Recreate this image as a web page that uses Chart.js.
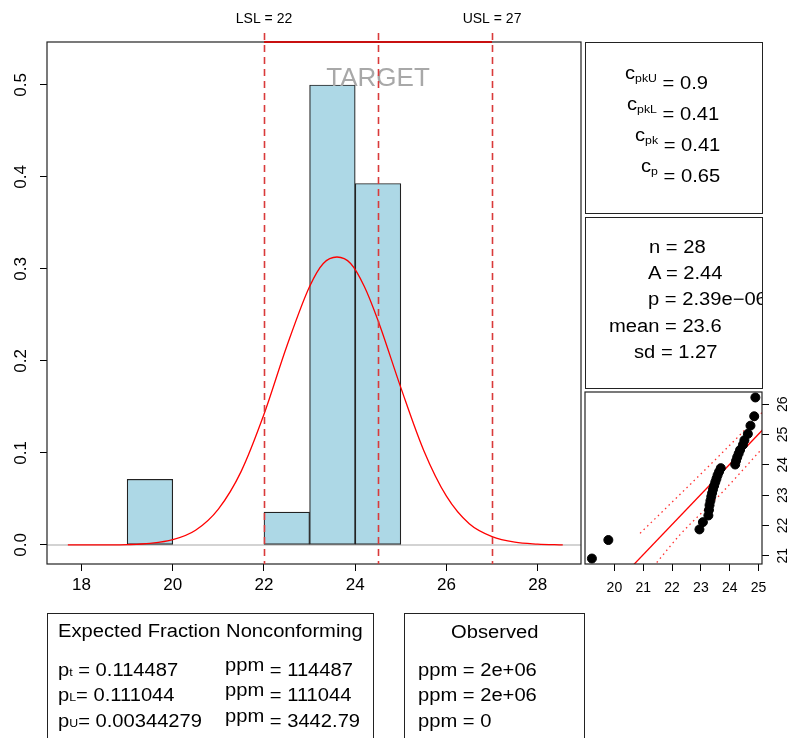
<!DOCTYPE html>
<html>
<head>
<meta charset="utf-8">
<script src="https://cdn.jsdelivr.net/npm/chart.js@4/dist/chart.umd.min.js"></script>
<style>
  body { margin: 0; background: #fff; }
  #wrap { position: relative; width: 790px; height: 738px; overflow: hidden; font-family: "Liberation Sans", Arial, sans-serif; }
  canvas { position: absolute; left: 0; top: 0; }
  .box { position: absolute; border: 1px solid #222; box-sizing: border-box; overflow: hidden; }
  .t { position: absolute; white-space: nowrap; font-size: 18px; line-height: 18px; transform: scaleX(1.12); transform-origin: 0 0; color: #000; }
  .up { position: relative; top: -10px; }
  .sub { font-size: 11px; position: relative; top: -6.6px; }
  .lo { font-size: 11px; }
  .pp { position: relative; top: -5px; }
</style>
</head>
<body>
<div id="wrap">
  <canvas id="hist" width="790" height="738"></canvas>
  <canvas id="qq" width="790" height="738"></canvas>

  <div class="box" style="left:585px;top:42px;width:178px;height:172px;">
    <div class="t" style="left:39px;top:31px;"><span class="up">c</span><span class="sub">pkU</span> = 0.9</div>
    <div class="t" style="left:41px;top:62px;"><span class="up">c</span><span class="sub">pkL</span> = 0.41</div>
    <div class="t" style="left:49px;top:93px;"><span class="up">c</span><span class="sub">pk</span> = 0.41</div>
    <div class="t" style="left:55px;top:124px;"><span class="up">c</span><span class="sub">p</span> = 0.65</div>
  </div>

  <div class="box" style="left:585px;top:217px;width:178px;height:172px;">
    <div class="t" style="left:63px;top:20px;">n = 28</div>
    <div class="t" style="left:62px;top:46px;">A = 2.44</div>
    <div class="t" style="left:62px;top:72px;">p = 2.39e−06</div>
    <div class="t" style="left:23px;top:99px;">mean = 23.6</div>
    <div class="t" style="left:48px;top:125px;">sd = 1.27</div>
  </div>

  <div class="box" style="left:47px;top:613px;width:327px;height:200px;">
    <div class="t" style="left:10px;top:8px;">Expected Fraction Nonconforming</div>
    <div class="t" style="left:10px;top:47px;">p<span class="lo">t</span> = 0.114487</div>
    <div class="t" style="left:10px;top:72px;">p<span class="lo">L</span>= 0.111044</div>
    <div class="t" style="left:10px;top:98px;">p<span class="lo">U</span>= 0.00344279</div>
    <div class="t" style="left:177px;top:47px;"><span class="pp">ppm</span> = 114487</div>
    <div class="t" style="left:177px;top:72px;"><span class="pp">ppm</span> = 111044</div>
    <div class="t" style="left:177px;top:98px;"><span class="pp">ppm</span> = 3442.79</div>
  </div>

  <div class="box" style="left:404px;top:613px;width:181px;height:200px;">
    <div class="t" style="left:46px;top:9px;">Observed</div>
    <div class="t" style="left:13px;top:47px;">ppm = 2e+06</div>
    <div class="t" style="left:13px;top:72px;">ppm = 2e+06</div>
    <div class="t" style="left:13px;top:98px;">ppm = 0</div>
  </div>
</div>

<script>
// histogram (density) of the 28 measurements
const binMids = [19.5, 20.5, 21.5, 22.5, 23.5, 24.5];
const density = [0.0714, 0, 0, 0.0357, 0.5, 0.3929];

// fitted normal curve
const curveX = [17.7, 18.5, 19, 19.5, 20, 20.5, 21, 21.5, 22, 22.5, 23, 23.3, 23.6, 23.9, 24.2, 24.5, 25, 25.5, 26, 26.5, 27, 27.5, 28, 28.55];
const curveY = [0.000, 0.0001, 0.0004, 0.0017, 0.0057, 0.016, 0.039, 0.080, 0.142, 0.216, 0.281, 0.306, 0.313, 0.306, 0.281, 0.244, 0.171, 0.103, 0.053, 0.023, 0.009, 0.003, 0.001, 0.000];

const LSL = 22, USL = 27, TARGET = 24.5;
const xTicks = [18, 20, 22, 24, 26, 28];
const yTicks = [0, 0.1, 0.2, 0.3, 0.4, 0.5];

// normal Q-Q plot: sample value (x) vs theoretical quantile (y)
const qqSample = [19.22, 19.79, 22.95, 23.07, 23.26, 23.28, 23.30, 23.33, 23.36, 23.39, 23.42, 23.46, 23.50, 23.54, 23.58, 23.63, 23.69, 24.19, 24.22, 24.26, 24.31, 24.36, 24.46, 24.51, 24.63, 24.72, 24.85, 24.89];
const qqTheory = [20.91, 21.52, 21.87, 22.11, 22.33, 22.51, 22.67, 22.81, 22.95, 23.07, 23.19, 23.31, 23.43, 23.54, 23.66, 23.77, 23.89, 24.01, 24.13, 24.25, 24.37, 24.49, 24.66, 24.81, 25.02, 25.29, 25.60, 26.22];
const qqLineX = [20.6, 25.2];
const qqLineY = [20.64, 25.21];
const upperX = [20.89, 22.28, 23.67, 25.12];
const upperY = [21.74, 23.03, 24.33, 25.72];
const lowerX = [21.47, 22.28, 23.67, 25.12];
const lowerY = [20.78, 21.70, 23.02, 24.53];
const qqXTicks = [20, 21, 22, 23, 24, 25];
const qqYTicks = [21, 22, 23, 24, 25, 26];

const FONT = '"Liberation Sans", Arial, sans-serif';
Chart.defaults.font.family = FONT;
Chart.defaults.color = "#000";

const pts = (xs, ys) => xs.map((v, i) => ({ x: v, y: ys[i] }));

const histPlugin = {
  id: "histExtras",
  beforeDatasetsDraw(chart) {
    const { ctx, chartArea: a, scales: { y } } = chart;
    const y0 = y.getPixelForValue(0);
    ctx.save();
    ctx.strokeStyle = "#c4c4c4";
    ctx.lineWidth = 1.5;
    ctx.beginPath();
    ctx.moveTo(a.left, y0);
    ctx.lineTo(a.right, y0);
    ctx.stroke();
    ctx.restore();
  },
  afterDraw(chart) {
    const { ctx, chartArea: a, scales: { x, y } } = chart;
    ctx.save();
    ctx.strokeStyle = "#222";
    ctx.lineWidth = 1.2;
    ctx.strokeRect(a.left, a.top, a.right - a.left, a.bottom - a.top);

    // rotated y tick labels
    ctx.fillStyle = "#000";
    ctx.font = "17px " + FONT;
    ctx.textAlign = "center";
    ctx.textBaseline = "middle";
    y.ticks.forEach((t) => {
      ctx.save();
      ctx.translate(21, y.getPixelForValue(t.value));
      ctx.rotate(-Math.PI / 2);
      ctx.fillText(t.value.toFixed(1), 0, 0);
      ctx.restore();
    });

    ctx.textBaseline = "alphabetic";
    ctx.fillStyle = "#a8a8a8";
    ctx.font = "26px " + FONT;
    ctx.fillText("TARGET", x.getPixelForValue(TARGET), 86);

    ctx.strokeStyle = "#d93a3a";
    ctx.lineWidth = 1.6;
    ctx.setLineDash([7, 5]);
    [LSL, TARGET, USL].forEach((v) => {
      const px = Math.round(x.getPixelForValue(v)) + 0.5;
      ctx.beginPath();
      ctx.moveTo(px, 33);
      ctx.lineTo(px, a.bottom);
      ctx.stroke();
    });
    ctx.setLineDash([]);
    ctx.strokeStyle = "#c81010";
    ctx.lineWidth = 2;
    ctx.beginPath();
    ctx.moveTo(x.getPixelForValue(LSL), a.top);
    ctx.lineTo(x.getPixelForValue(USL), a.top);
    ctx.stroke();

    ctx.fillStyle = "#000";
    ctx.font = "14px " + FONT;
    ctx.fillText("LSL = " + LSL, x.getPixelForValue(LSL), 23);
    ctx.fillText("USL = " + USL, x.getPixelForValue(USL), 23);
    ctx.restore();
  },
};

new Chart(document.getElementById("hist"), {
  type: "bar",
  data: {
    datasets: [
      {
        type: "line",
        data: pts(curveX, curveY),
        borderColor: "#ff0000",
        borderWidth: 1.3,
        pointRadius: 0,
        cubicInterpolationMode: "monotone",
        order: 0,
      },
      {
        data: pts(binMids, density),
        backgroundColor: "#add8e6",
        borderColor: "#222",
        borderWidth: 1.2,
        borderSkipped: false,
        barPercentage: 1,
        categoryPercentage: 1,
        grouped: false,
        order: 1,
      },
    ],
  },
  options: {
    responsive: false,
    animation: false,
    events: [],
    layout: { padding: { left: 0, top: 42, right: 209, bottom: 134 } },
    plugins: { legend: { display: false }, tooltip: { enabled: false } },
    scales: {
      x: {
        type: "linear",
        offset: false,
        min: 17.243,
        max: 28.95,
        afterBuildTicks: (s) => { s.ticks = xTicks.map((v) => ({ value: v })); },
        afterFit: (s) => { s.height = 40; },
        grid: { offset: false, drawOnChartArea: false, tickLength: 7, color: "#000", tickColor: "#000" },
        border: { display: false },
        ticks: { font: { size: 17 }, padding: 4, maxRotation: 0 },
      },
      y: {
        min: -0.0207,
        max: 0.5467,
        afterBuildTicks: (s) => { s.ticks = yTicks.map((v) => ({ value: v })); },
        afterFit: (s) => { s.width = 47; },
        grid: { drawOnChartArea: false, tickLength: 7, color: "#000", tickColor: "#000" },
        border: { display: false },
        ticks: { display: false },
      },
    },
  },
  plugins: [histPlugin],
});

const qqPlugin = {
  id: "qqExtras",
  afterDraw(chart) {
    const { ctx, chartArea: a, scales: { y } } = chart;
    ctx.save();
    ctx.strokeStyle = "#222";
    ctx.lineWidth = 1.2;
    ctx.strokeRect(a.left, a.top, a.right - a.left, a.bottom - a.top);
    ctx.fillStyle = "#000";
    ctx.font = "14px " + FONT;
    ctx.textAlign = "center";
    ctx.textBaseline = "middle";
    y.ticks.forEach((t) => {
      ctx.save();
      ctx.translate(783, y.getPixelForValue(t.value));
      ctx.rotate(-Math.PI / 2);
      ctx.fillText(String(t.value), 0, 0);
      ctx.restore();
    });
    ctx.restore();
  },
};

new Chart(document.getElementById("qq"), {
  type: "scatter",
  data: {
    datasets: [
      {
        data: pts(qqSample, qqTheory),
        backgroundColor: "#000",
        borderColor: "#000",
        pointRadius: 4.5,
        order: 0,
      },
      {
        type: "line",
        data: pts(qqLineX, qqLineY),
        borderColor: "#ff0000",
        borderWidth: 1.3,
        pointRadius: 0,
        order: 1,
      },
      {
        type: "line",
        data: pts(upperX, upperY),
        borderColor: "#ff3030",
        borderWidth: 1.3,
        borderDash: [1.5, 3.5],
        pointRadius: 0,
        cubicInterpolationMode: "monotone",
        order: 2,
      },
      {
        type: "line",
        data: pts(lowerX, lowerY),
        borderColor: "#ff3030",
        borderWidth: 1.3,
        borderDash: [1.5, 3.5],
        pointRadius: 0,
        cubicInterpolationMode: "monotone",
        order: 3,
      },
    ],
  },
  options: {
    responsive: false,
    animation: false,
    events: [],
    layout: { padding: { left: 585, top: 392, right: 0, bottom: 134 } },
    plugins: { legend: { display: false }, tooltip: { enabled: false } },
    scales: {
      x: {
        type: "linear",
        min: 18.98,
        max: 25.12,
        afterBuildTicks: (s) => { s.ticks = qqXTicks.map((v) => ({ value: v })); },
        afterFit: (s) => { s.height = 40; },
        grid: { drawOnChartArea: false, tickLength: 7, color: "#000", tickColor: "#000" },
        border: { display: false },
        ticks: { font: { size: 14 }, padding: 9, maxRotation: 0 },
      },
      y: {
        position: "right",
        min: 20.73,
        max: 26.40,
        afterBuildTicks: (s) => { s.ticks = qqYTicks.map((v) => ({ value: v })); },
        afterFit: (s) => { s.width = 28; },
        grid: { drawOnChartArea: false, tickLength: 7, color: "#000", tickColor: "#000" },
        border: { display: false },
        ticks: { display: false },
      },
    },
  },
  plugins: [qqPlugin],
});
</script>
</body>
</html>
